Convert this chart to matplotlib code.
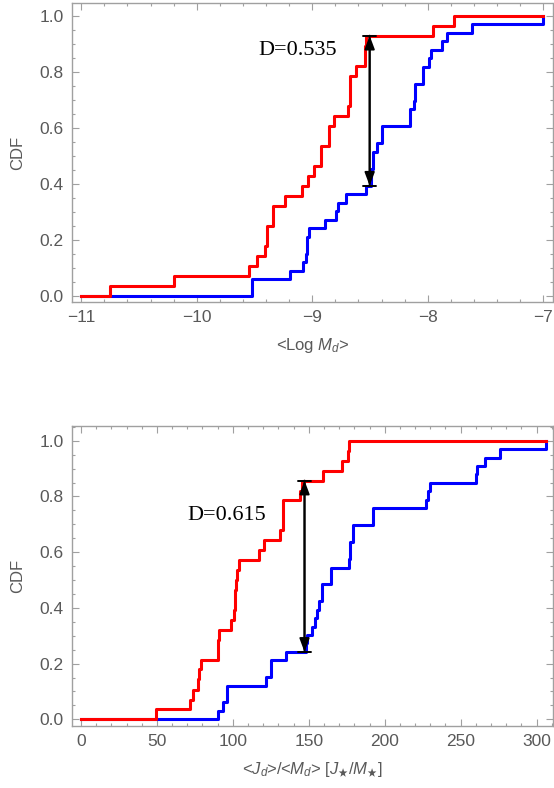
import matplotlib
matplotlib.use("Agg")
import matplotlib.pyplot as plt
from matplotlib.ticker import MultipleLocator

# step positions and CDF levels
logm_red_x = [-11.0, -10.749, -10.194, -9.546, -9.482, -9.410, -9.396, -9.339,
              -9.232, -9.093, -9.036, -8.987, -8.927, -8.855, -8.812, -8.691,
              -8.676, -8.618, -8.546, -8.532, -7.956, -7.769, -7.0]
logm_red_cdf = [0.0, 0.036, 0.071, 0.107, 0.143, 0.179, 0.250, 0.321, 0.357,
                0.393, 0.429, 0.464, 0.536, 0.607, 0.643, 0.679, 0.786, 0.821,
                0.893, 0.929, 0.964, 1.0, 1.0]

logm_blue_x = [-11.0, -9.525, -9.194, -9.080, -9.056, -9.043, -9.024, -8.892,
               -8.791, -8.777, -8.705, -8.538, -8.489, -8.475, -8.440, -8.394,
               -8.158, -8.121, -8.112, -8.037, -7.985, -7.970, -7.875, -7.835,
               -7.616, -7.0]
logm_blue_cdf = [0.0, 0.061, 0.091, 0.121, 0.152, 0.212, 0.242, 0.273, 0.303,
                 0.333, 0.364, 0.394, 0.455, 0.515, 0.545, 0.606, 0.667, 0.697,
                 0.758, 0.818, 0.848, 0.879, 0.909, 0.939, 0.970, 1.0]

jm_red_x = [0.0, 49.1, 71.7, 73.9, 76.8, 77.8, 78.9, 89.9, 91.0, 99.1, 100.7,
            101.5, 102.0, 102.8, 104.1, 117.3, 120.7, 130.9, 132.7, 144.5,
            145.8, 159.4, 172.2, 175.9, 176.5, 305.9]
jm_red_cdf = [0.0, 0.036, 0.071, 0.107, 0.143, 0.179, 0.214, 0.286, 0.321,
              0.357, 0.393, 0.464, 0.5, 0.536, 0.571, 0.607, 0.643, 0.679,
              0.786, 0.821, 0.857, 0.893, 0.929, 0.964, 1.0, 1.0]

jm_blue_x = [0.0, 90.3, 93.4, 96.0, 121.7, 124.8, 134.9, 148.0, 148.8, 152.2,
             154.3, 155.1, 157.0, 159.0, 164.5, 176.5, 177.4, 178.8, 192.1,
             227.0, 228.3, 229.6, 259.9, 260.9, 265.8, 276.0, 305.9]
jm_blue_cdf = [0.0, 0.030, 0.061, 0.121, 0.152, 0.212, 0.242, 0.273, 0.303,
               0.333, 0.364, 0.394, 0.424, 0.485, 0.545, 0.576, 0.636, 0.697,
               0.758, 0.788, 0.818, 0.848, 0.879, 0.909, 0.939, 0.970, 1.0]

# KS distance markers: x, upper, lower, label
ks_logm = (-8.503, 0.929, 0.394, "D=0.535")
ks_jm = (147.2, 0.857, 0.242, "D=0.615")

plt.rcParams["font.family"] = ["Liberation Sans", "DejaVu Sans"]
plt.rcParams["mathtext.fontset"] = "custom"
plt.rcParams["mathtext.rm"] = "Liberation Sans"
plt.rcParams["mathtext.it"] = "Liberation Sans:italic"
plt.rcParams["mathtext.fallback"] = "stixsans"

W, H = 554, 788
fig = plt.figure(figsize=(W / 100, H / 100), dpi=100)


def box(left, right, top, bottom):
    return [left / W, 1 - bottom / H, (right - left) / W, (bottom - top) / H]


ax1 = fig.add_axes(box(72, 552.5, 3, 302))
ax2 = fig.add_axes(box(72, 552.5, 426, 726))

frame = "#a0a0a0"
txt = "#595959"


def panel(ax, bx, by, rx, ry, ks, text_xy):
    ax.step(bx, by, where="post", color="blue", lw=2.2)
    ax.step(rx, ry, where="post", color="red", lw=2.2)

    x, hi, lo, label = ks
    ax.annotate("", xy=(x, hi), xytext=(x, lo),
                arrowprops=dict(arrowstyle="<|-|>,head_length=0.8,head_width=0.3",
                                color="black", lw=1.4, shrinkA=0, shrinkB=0))
    ax.annotate("", xy=(x, hi), xytext=(x, lo),
                arrowprops=dict(arrowstyle="|-|,widthA=0.45,widthB=0.45",
                                color="black", lw=1.4, shrinkA=0, shrinkB=0))
    ax.text(text_xy[0], text_xy[1], label, family="Liberation Serif",
            fontsize=16, ha="center", va="center", color="black")

    for s in ax.spines.values():
        s.set_color(frame)
        s.set_linewidth(1.0)
    ax.tick_params(which="both", direction="in", top=True, right=True,
                   color=frame, labelcolor=txt, labelsize=12.5, width=0.8, pad=6)
    ax.tick_params(which="major", length=5)
    ax.tick_params(which="minor", length=2.5)
    ax.yaxis.set_major_locator(MultipleLocator(0.2))
    ax.yaxis.set_minor_locator(MultipleLocator(0.05))
    ax.set_ylabel("CDF", fontsize=12, color=txt)
    ax.yaxis.set_label_coords(-0.098, 0.5)


panel(ax1, logm_blue_x, logm_blue_cdf, logm_red_x, logm_red_cdf, ks_logm, (-9.125, 0.876))
ax1.set_xlim(-11.08, -6.92)
ax1.set_ylim(-0.0204, 1.0455)
ax1.xaxis.set_major_locator(MultipleLocator(1))
ax1.xaxis.set_minor_locator(MultipleLocator(0.2))
ax1.set_xlabel("<Log $M_d$>", fontsize=12, color=txt)
ax1.xaxis.set_label_coords(0.5, -0.114)

panel(ax2, jm_blue_x, jm_blue_cdf, jm_red_x, jm_red_cdf, ks_jm, (95.9, 0.73))
ax2.set_xlim(-5.92, 310.5)
ax2.set_ylim(-0.024, 1.053)
ax2.xaxis.set_major_locator(MultipleLocator(50))
ax2.xaxis.set_minor_locator(MultipleLocator(10))
ax2.set_xlabel(r"<$J_d$>/<$M_d$> [$J_\bigstar/M_\bigstar$]", fontsize=12, color=txt)
ax2.xaxis.set_label_coords(0.5, -0.113)

fig.savefig("out.png", dpi=100)
